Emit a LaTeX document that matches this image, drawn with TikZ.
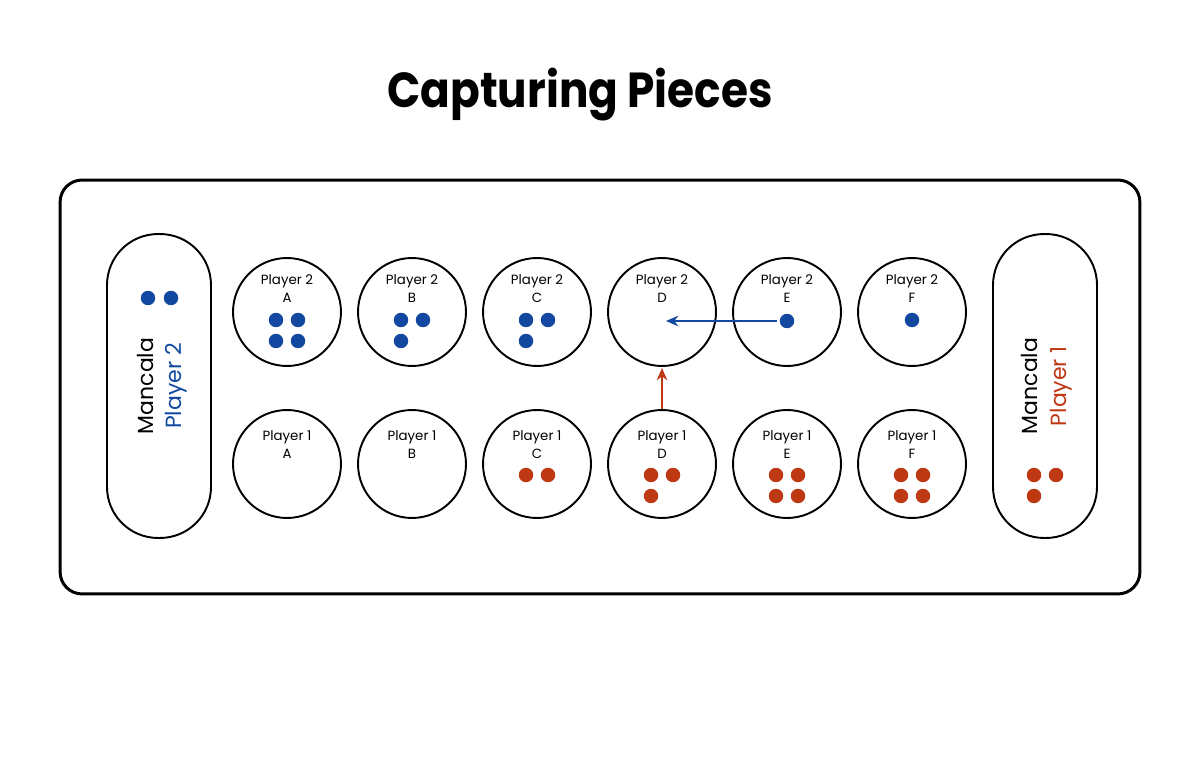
\documentclass[tikz,border=0pt]{standalone}
\usepackage{fontspec}
\setmainfont{Poppins}
\usetikzlibrary{arrows.meta}
\definecolor{pblue}{RGB}{18,72,160}
\definecolor{pred}{RGB}{190,56,20}
\tikzset{
  pit/.style={circle,draw=black,line width=1.1pt,minimum size=2.16cm,inner sep=0pt},
  store/.style={draw=black,line width=1.1pt,rounded corners=1.02cm,minimum width=2.08cm,minimum height=6.08cm,inner sep=0pt},
  lbl/.style={font=\fontsize{7.6}{10.2}\selectfont,inner sep=0pt,align=center},
  bstone/.style={circle,fill=pblue,minimum size=0.29cm,inner sep=0pt},
  rstone/.style={circle,fill=pred,minimum size=0.29cm,inner sep=0pt},
  mtxt/.style={font=\fontsize{12.5}{14}\selectfont,inner sep=0pt,rotate=90},
  arr/.style={line width=0.9pt,-{Stealth[length=7pt,width=6pt]}}
}
\begin{document}
\begin{tikzpicture}[x=0.02cm,y=-0.02cm]
\useasboundingbox (0,0) rectangle (1200,773);
\node[font=\fontsize{28}{32}\selectfont\bfseries,inner sep=0pt] (title) at (580,95) {\scalebox{0.89}[1]{Capturing Pieces}};
\node[draw=black,line width=1.7pt,rounded corners=0.44cm,minimum width=21.6cm,minimum height=8.28cm,inner sep=0pt] (board) at (600,387) {};
\node[store] (m2) at (159,386) {};
\node[store] (m1) at (1045,386) {};
\node[mtxt] (m2a) at (145,386) {Mancala};
\node[mtxt,text=pblue] (m2b) at (176,386) {Player 2};
\node[mtxt] (m1a) at (1029,386) {Mancala};
\node[mtxt,text=pred] (m1b) at (1061,386) {Player 1};
\node[bstone] (m2s1) at (148,298) {};
\node[bstone] (m2s2) at (171,298) {};
\node[rstone] (m1s1) at (1034,475) {};
\node[rstone] (m1s2) at (1056,475) {};
\node[rstone] (m1s3) at (1034,496) {};
\foreach \l/\x in {A/287,B/412,C/537,D/662,E/787,F/912}{
  \node[pit] (t\l) at (\x,312) {};
  \node[lbl] (tl\l) at (\x,289) {Player 2\\\l};
  \node[pit] (b\l) at (\x,464) {};
  \node[lbl] (bl\l) at (\x,444.5) {Player 1\\\l};
}
% top stones
\node[bstone] (tA1) at (276,320) {};
\node[bstone] (tA2) at (298,320) {};
\node[bstone] (tA3) at (276,341) {};
\node[bstone] (tA4) at (298,341) {};
\node[bstone] (tB1) at (401,320) {};
\node[bstone] (tB2) at (423,320) {};
\node[bstone] (tB3) at (401,341) {};
\node[bstone] (tC1) at (526,320) {};
\node[bstone] (tC2) at (548,320) {};
\node[bstone] (tC3) at (526,341) {};
\node[bstone] (tE1) at (787,321) {};
\node[bstone] (tF1) at (912,320) {};
% bottom stones
\node[rstone] (bC1) at (526,475) {};
\node[rstone] (bC2) at (548,475) {};
\node[rstone] (bD1) at (651,475) {};
\node[rstone] (bD2) at (673,475) {};
\node[rstone] (bD3) at (651,496) {};
\node[rstone] (bE1) at (776,475) {};
\node[rstone] (bE2) at (798,475) {};
\node[rstone] (bE3) at (776,496) {};
\node[rstone] (bE4) at (798,496) {};
\node[rstone] (bF1) at (901,475) {};
\node[rstone] (bF2) at (923,475) {};
\node[rstone] (bF3) at (901,496) {};
\node[rstone] (bF4) at (923,496) {};
% arrows
\coordinate (bluetip) at (666,321);
\coordinate (redtip) at (662,368);
\draw[arr,draw=pblue,fill=pblue] (tE1.west) ++(-2,0) -- (bluetip);
\draw[arr,draw=pred,fill=pred] (bD.north) -- (redtip);
\end{tikzpicture}
\end{document}
